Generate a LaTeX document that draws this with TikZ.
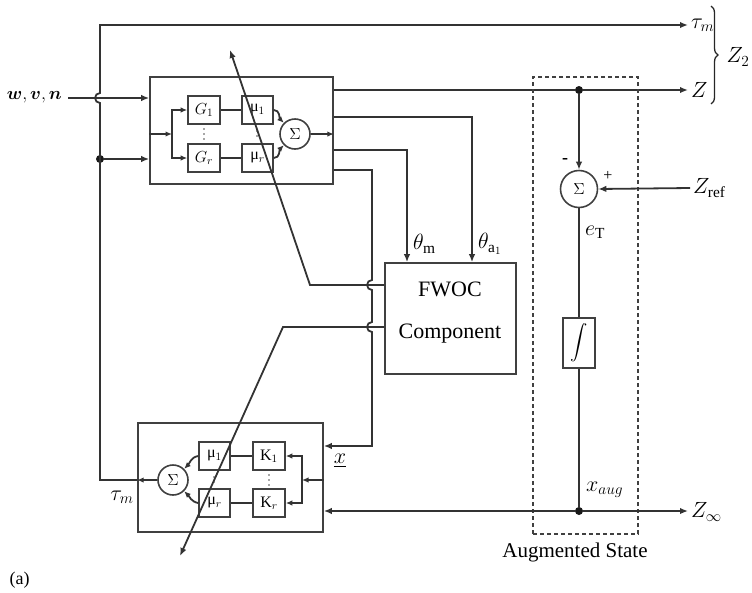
\RequirePackage{fix-cm}
\documentclass[tikz,border=0pt]{standalone}
\usepackage{amsmath,bm}
\usepackage{fontspec}
\setmainfont{Liberation Serif}
\usetikzlibrary{arrows.meta,decorations.pathreplacing,calc}
\begin{document}
\begin{tikzpicture}[x=1pt,y=-1pt,
  line/.style={draw=black!80, line width=1.8pt},
  arr/.style={line, -{Latex[length=8pt,width=6.5pt]}},
  sarr/.style={line, -{Latex[length=6.5pt,width=5.5pt]}},
  box/.style={draw=black!75, line width=1.6pt, inner sep=0pt},
  sbox/.style={box, minimum width=32pt, minimum height=28pt, font=\fontsize{16}{18}\selectfont},
  sumc/.style={draw=black!75, line width=1.6pt, circle, inner sep=0pt, minimum size=30pt, font=\fontsize{16}{18}\selectfont},
  dot/.style={circle, fill=black!90, inner sep=0pt, minimum size=8pt},
  tdot/.style={circle, fill=black!70, inner sep=0pt, minimum size=1.8pt},
  lab/.style={inner sep=1pt, font=\fontsize{22}{26}\selectfont},
  big/.style={inner sep=0pt, font=\fontsize{22}{26}\selectfont}
]
\useasboundingbox (0,0) rectangle (752,592);

% ---------- top block ----------
\node[box, minimum width=183pt, minimum height=107pt] (topblk) at (241.5,130.5) {};
\node[sbox] (G1) at (204,110) {$G_1$};
\node[sbox] (Gr) at (204,158) {$G_r$};
\node[sbox, minimum width=31pt] (m1) at (257.5,110) {μ$_1$};
\node[sbox, minimum width=31pt] (mr) at (257.5,158) {μ$_r$};
\node[sumc] (s1) at (295,134) {$\Sigma$};
\foreach \yy in {129,134,139} { \node[tdot] at (204,\yy) {}; }
\foreach \yy in {131,136} { \node[tdot] at (257,\yy) {}; }
\coordinate (brT) at (172,134);

\draw[sarr] (topblk.west |- brT) -- (brT);
\draw[sarr] (brT) |- (G1.west);
\draw[sarr] (brT) |- (Gr.west);
\draw[line] (G1) -- (m1);
\draw[line] (Gr) -- (mr);
\draw[sarr] (m1.east) to[out=0,in=135] (s1.135);
\draw[sarr] (mr.east) to[out=0,in=225] (s1.225);
\draw[sarr] (s1.east) -- (topblk.east |- s1);

% ---------- bottom block ----------
\node[box, minimum width=185pt, minimum height=109pt] (botblk) at (230.5,477.5) {};
\node[sbox, minimum width=31pt] (bm1) at (214.5,456) {μ$_1$};
\node[sbox, minimum width=31pt] (bmr) at (214.5,503) {μ$_r$};
\node[sbox] (K1) at (269,456) {$\mathrm{K}_1$};
\node[sbox] (Kr) at (269,503) {$\mathrm{K}_r$};
\node[sumc] (s3) at (173,480) {$\Sigma$};
\foreach \yy in {475,480,485} { \node[tdot] at (269,\yy) {}; }
\foreach \yy in {477,482} { \node[tdot] at (214,\yy) {}; }
\coordinate (brB) at (302,480);

\draw[sarr] (botblk.east |- brB) -- (brB);
\draw[sarr] (brB) |- (K1.east);
\draw[sarr] (brB) |- (Kr.east);
\draw[line] (K1) -- (bm1);
\draw[line] (Kr) -- (bmr);
\draw[sarr] (bm1.west) to[out=190,in=45] (s3.45);
\draw[sarr] (bmr.west) to[out=170,in=-45] (s3.-45);

% ---------- FWOC ----------
\node[box, minimum width=131pt, minimum height=111pt] (fwoc) at (450.5,318.5) {};
\node[big] (fwt) at (450,289) {FWOC};
\node[big] (fwc) at (450,334) {Component};

% ---------- coordinates ----------
\coordinate (wvn) at (68,98);
\coordinate (fbB) at (100,480);
\coordinate (fbT) at (100,25);
\coordinate (tauE) at (688,25);
\node[dot] (dL) at (100,159) {};
\coordinate (tha) at (472,117);
\coordinate (thm) at (407,150);
\coordinate (xc) at (372,170);
\coordinate (xb) at (372,446);
\coordinate (a1) at (310,285);
\coordinate (a2) at (283,327);
\coordinate (tipA) at (230,50);
\coordinate (tipB) at (180,556);
\node[dot] (dZ) at (579,90) {};
\node[dot] (dX) at (579,511) {};
\coordinate (ZE) at (688,90);
\coordinate (ZinfE) at (688,511);
\coordinate (ZrefS) at (690,188);

% ---------- feedback tau_m ----------
\draw[sarr] (s3.west) -- (botblk.west |- s3);
\draw[arr] (botblk.west |- s3) -- (fbB) -- ($(fbB |- wvn)+(0,5)$)
   arc[start angle=270,end angle=90,radius=5pt] -- (fbT) -- (tauE);
\draw[arr] (dL) -- (topblk.west |- dL);
\draw[arr] (wvn) -- (topblk.west |- wvn);

% ---------- top block outputs ----------
\draw[arr] (topblk.east |- dZ) -- (dZ) -- (ZE);
\draw[arr] (topblk.east |- tha) -- (tha) -- (tha |- fwoc.north);
\draw[arr] (topblk.east |- thm) -- (thm) -- (thm |- fwoc.north);
\draw[arr] (topblk.east |- xc) -- (xc) -- ($(xc |- a1)+(0,-5)$)
   arc[start angle=90,end angle=270,radius=5pt] -- ($(xc |- a2)+(0,-5)$)
   arc[start angle=90,end angle=270,radius=5pt] -- (xb) -- (botblk.east |- xb);

% ---------- FWOC scheduling lines ----------
\draw[arr] (fwoc.west |- a1) -- (a1) -- (tipA);
\draw[arr] (fwoc.west |- a2) -- (a2) -- (tipB);

% ---------- augmented state ----------
\node[draw=black!75, line width=1.5pt, dash pattern=on 4pt off 3pt, minimum width=105pt, minimum height=457pt, inner sep=0pt] (aug) at (585.5,305.5) {};
\node[sumc, minimum size=37pt] (s2) at (579,189) {$\Sigma$};
\node[box, minimum width=32pt, minimum height=50pt, font=\fontsize{17}{19}\selectfont] (integ) at (579,343) {$\displaystyle\int$};
\draw[arr] (dZ) -- (s2.north);
\draw[arr] (ZrefS) -- (s2.east);
\draw[line] (s2.south) -- (integ.north);
\draw[line] (integ.south) -- (dX);
\draw[arr] (dX) -- (botblk.east |- dX);
\draw[arr] (dX) -- (ZinfE);

% brace
\draw[draw=black!85, line width=1.3pt, decorate, decoration={brace, amplitude=7pt}] (711,6) -- (711,104);

% ---------- labels ----------
\node[lab, anchor=east, font=\fontsize{18}{22}\selectfont] (lwvn) at (63,97) {$\bm{w},\bm{v},\bm{n}$};
\node[lab, anchor=west] (ltau) at (690,25) {$\tau_m$};
\node[lab, anchor=west] (lZ) at (690,90) {$Z$};
\node[lab] (lZ2) at (738,57) {$Z_2$};
\node[lab, anchor=west] (lZref) at (692,188) {$Z_{\mathrm{ref}}$};
\node[lab, anchor=west] (lZinf) at (690,512) {$Z_\infty$};
\node[lab, anchor=west] (leT) at (584,232) {$e_{\mathrm{T}}$};
\node[lab, anchor=west] (lthm) at (412,244) {$\theta_{\mathrm{m}}$};
\node[lab, anchor=west] (ltha) at (477,244) {$\theta_{\mathrm{a}_1}$};
\node[lab] (lx) at (340,461) {$\underline{x}$};
\node[lab] (ltaub) at (122,497) {$\tau_m$};
\node[lab, anchor=west] (lxaug) at (585,490) {$x_{aug}$};
\node[font=\fontsize{18}{20}\selectfont\bfseries] (lminus) at (565,161) {-};
\node[font=\fontsize{16}{18}\selectfont] (lplus) at (608,176) {+};
\node[font=\fontsize{21}{24}\selectfont] (laug) at (575,552) {Augmented State};
\node[font=\fontsize{18}{20}\selectfont, anchor=west] (la) at (6,580) {(a)};
\end{tikzpicture}
\end{document}
